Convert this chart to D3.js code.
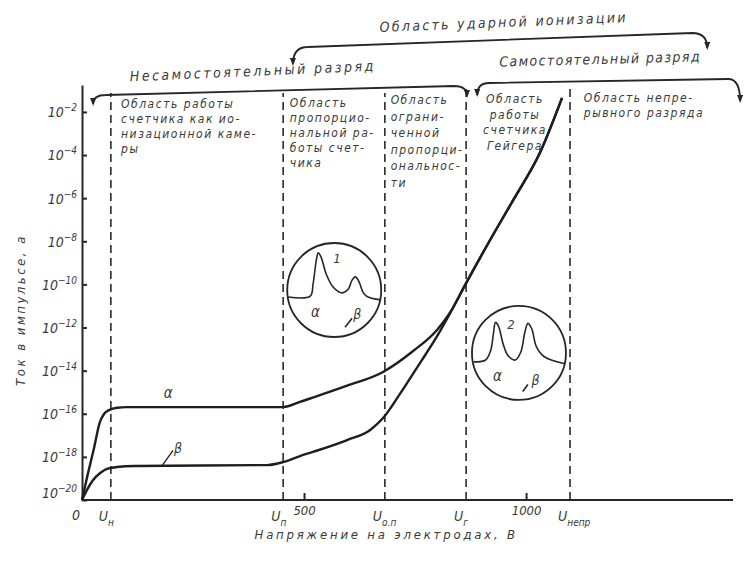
<!DOCTYPE html>
<html lang="ru">
<head>
<meta charset="UTF-8">
<title>Ток в импульсе — напряжение на электродах</title>
<script src="https://cdn.jsdelivr.net/npm/d3@7"></script>
<style>
    body { margin: 0; background: #fff; }
    svg text {
        font-family: "DejaVu Sans Condensed", "DejaVu Sans", sans-serif;
        font-style: italic;
        fill: #3a3a3a;
    }
    .axis path, .axis line { stroke: #262626; stroke-width: 2; fill: none; }
    .curve { fill: none; stroke: #1e1e1e; stroke-width: 2.4; }
    .bound { stroke: #2a2a2a; stroke-width: 1.6; stroke-dasharray: 8,5; }
    .bracket { fill: none; stroke: #262626; stroke-width: 1.8; }
    .inset circle { fill: none; stroke: #262626; stroke-width: 1.8; }
    .inset path { fill: none; stroke: #262626; stroke-width: 1.6; }
    .region { font-size: 12px; letter-spacing: 1.5px; }
</style>
</head>
<body>
<svg width="744" height="563"></svg>
<script>
// кривые: [напряжение, В ; log10 тока]
const alphaCurve = [[0,-20],[13,-18.8],[27,-17.6],[40,-16.4],[50,-16.0],[62,-15.82],[80,-15.72],[100,-15.69],
    [453,-15.69],[491,-15.45],[520,-15.25],[597,-14.7],[678,-14.06],[745,-13.1],[800,-12.1],[829,-11.3],
    [865,-9.94],[919,-7.94],[971,-6.09],[1032,-3.86],[1081,-1.35]];
const betaCurve = [[0,-20],[11,-19.54],[25,-19.07],[41,-18.75],[56,-18.56],[79,-18.47],[119,-18.42],
    [417,-18.38],[453,-18.24],[491,-17.96],[520,-17.77],[597,-17.22],[649,-16.75],[678,-16.2],[716,-15.08],
    [761,-13.65],[800,-12.39],[829,-11.33],[865,-9.94],[919,-7.94],[971,-6.09],[1032,-3.86],[1081,-1.35]];

const boundNames = ["н", "п", "о.п", "г", "непр"];
const boundVolts = [65, 453, 682, 865, 1099];

const yTickExp = [-2, -4, -6, -8, -10, -12, -14, -16, -18, -20];
const xTickVolts = [500, 1000];

const regionLines = [
    ["Область работы", "счетчика как ио-", "низационной каме-", "ры"],
    ["Область", "пропорцио-", "нальной ра-", "боты счет-", "чика"],
    ["Область", "ограни-", "ченной", "пропорци-", "ональнос-", "ти"],
    ["Область", "работы", "счетчика", "Гейгера"],
    ["Область непре-", "рывного разряда"]
];
const regionStart = [88, 468, 695, 975, 1130];

// импульсы во вставках (в долях радиуса круга)
const pulse1 = [[-0.98,-0.15],[-0.51,-0.13],[-0.45,0.13],[-0.38,0.64],[-0.34,0.79],[-0.28,0.70],[-0.17,0.34],
    [-0.02,0.06],[0.17,-0.06],[0.30,0.02],[0.38,0.21],[0.45,0.28],[0.53,0.17],[0.62,-0.06],[0.72,-0.15],[0.98,-0.21]];
const pulse2 = [[-0.96,-0.19],[-0.71,-0.15],[-0.60,0.06],[-0.54,0.44],[-0.50,0.65],[-0.44,0.58],[-0.33,0.17],
    [-0.23,-0.06],[-0.08,-0.15],[0.04,0.02],[0.125,0.44],[0.19,0.63],[0.27,0.52],[0.375,0.125],[0.54,-0.08],[0.98,-0.23]];
const insetCenters = [[568, -10.26], [984, -13.18]];
const insetNames = ["1", "2"];

const svg = d3.select("svg");

const x = d3.scaleLinear().domain([0, 1466]).range([82, 733]);
const y = d3.scaleLog().domain([1e-20, Math.pow(10, -0.75)]).range([500, 85]);
const yE = e => y(Math.pow(10, e));

// оси
const yAxis = svg.append("g").attr("class", "axis")
    .attr("transform", "translate(" + x(0) + ",0)")
    .call(d3.axisLeft(y).tickValues(yTickExp.map(e => Math.pow(10, e)))
        .tickSize(-5).tickSizeOuter(0).tickPadding(5).tickFormat(""));
yAxis.selectAll(".tick text").each(function (d) {
    const t = d3.select(this).attr("fill", null).attr("font-size", 14).attr("dy", "0.35em");
    const e = Math.round(Math.log10(d));
    if (e === -20) t.attr("dy", "-0.15em");
    t.append("tspan").text("10");
    t.append("tspan").attr("font-size", 10).attr("dy", "-0.6em").text("\u2212" + (-e));
});

const xAxis = svg.append("g").attr("class", "axis")
    .attr("transform", "translate(0," + y(1e-20) + ")")
    .call(d3.axisBottom(x).tickValues(xTickVolts).tickFormat(d3.format("d"))
        .tickSize(-7).tickSizeOuter(0).tickPadding(6));
xAxis.selectAll(".tick text").attr("fill", null).attr("font-size", 13).attr("font-family", null);
xAxis.select(".domain").attr("d", "M" + x(0) + ",0H" + x(1466));

svg.append("text").attr("x", x(0) - 6).attr("y", y(1e-20) + 20)
    .attr("text-anchor", "middle").attr("font-size", 14).text("0");

// границы областей
const bounds = svg.append("g");
boundVolts.forEach((v, i) => {
    bounds.append("line").attr("class", "bound")
        .attr("x1", x(v)).attr("x2", x(v))
        .attr("y1", y(1e-20)).attr("y2", i > 2 ? 86 : 93);
    const t = bounds.append("text").attr("x", x(v) - 12).attr("y", y(1e-20) + 21)
        .attr("font-size", 14);
    t.append("tspan").text("U");
    t.append("tspan").attr("font-size", 10).attr("dy", 5).text(boundNames[i]);
});

// кривые
const line = d3.line().x(d => x(d[0])).y(d => yE(d[1])).curve(d3.curveMonotoneX);
svg.append("path").datum(alphaCurve).attr("class", "curve").attr("d", line);
svg.append("path").datum(betaCurve).attr("class", "curve").attr("d", line);

svg.append("text").attr("x", x(194)).attr("y", yE(-15.04) + 5)
    .attr("text-anchor", "middle").attr("font-size", 15).text("α");
svg.append("text").attr("x", x(216)).attr("y", yE(-17.54) + 6)
    .attr("text-anchor", "middle").attr("font-size", 14).text("β");
svg.append("line").attr("x1", x(180)).attr("y1", yE(-18.42)).attr("x2", x(205)).attr("y2", yE(-17.7))
    .attr("stroke", "#262626").attr("stroke-width", 1.4);

// подписи областей
regionLines.forEach((lines, i) => {
    const first = [104, 103, 100, 99, 98][i];
    const step = [15, 15, 16.5, 15.5, 15][i];
    const t = svg.append("text").attr("class", "region")
        .attr("text-anchor", i === 3 ? "middle" : "start");
    lines.forEach((s, j) => {
        t.append("tspan").attr("x", x(regionStart[i])).attr("y", first + j * step + 4).text(s);
    });
});

// скобки
svg.append("defs").append("marker").attr("id", "arr")
    .attr("viewBox", "0 0 8 6").attr("refX", 6).attr("refY", 3)
    .attr("markerWidth", 8).attr("markerHeight", 6).attr("markerUnits", "userSpaceOnUse")
    .attr("orient", "auto-start-reverse")
    .append("path").attr("d", "M0,0L8,3L0,6z").attr("fill", "#262626");

function bracket(v0, v1, yl, yr, tip0, tip1, r) {
    const p = d3.path();
    const x0 = x(v0), x1 = x(v1);
    p.moveTo(x0, tip0);
    p.quadraticCurveTo(x0, yl, x0 + r, yl);
    p.lineTo(x1 - r, yr);
    p.quadraticCurveTo(x1, yr, x1, tip1);
    svg.append("path").attr("class", "bracket").attr("d", p.toString())
        .attr("marker-start", "url(#arr)").attr("marker-end", "url(#arr)");
}
bracket(475, 1408, 47, 33, 64, 48, 15);
bracket(25, 867, 95, 86, 104, 96, 13);
bracket(890, 1482, 83, 79, 95, 101, 12);

svg.append("text").attr("transform", "translate(" + x(950) + ",27) rotate(-2.3)")
    .attr("text-anchor", "middle").attr("font-size", 14).attr("letter-spacing", 2.3)
    .text("Область ударной ионизации");
svg.append("text").attr("transform", "translate(" + x(385) + ",76) rotate(-2.5)")
    .attr("text-anchor", "middle").attr("font-size", 14).attr("letter-spacing", 2.5)
    .text("Несамостоятельный разряд");
svg.append("text").attr("transform", "translate(" + x(1167) + ",64) rotate(-1.5)")
    .attr("text-anchor", "middle").attr("font-size", 14).attr("letter-spacing", 1.4)
    .text("Самостоятельный разряд");

// вставки с импульсами
const insetR = 47;
[pulse1, pulse2].forEach((pts, i) => {
    const cx = x(insetCenters[i][0]), cy = yE(insetCenters[i][1]);
    const sx = d3.scaleLinear().domain([-1, 1]).range([cx - insetR, cx + insetR]);
    const sy = d3.scaleLinear().domain([-1, 1]).range([cy + insetR, cy - insetR]);
    const g = svg.append("g").attr("class", "inset");
    g.append("circle").attr("cx", cx).attr("cy", cy).attr("r", insetR);
    g.append("path").datum(pts)
        .attr("d", d3.line().x(d => sx(d[0])).y(d => sy(d[1])).curve(d3.curveCatmullRom));
    const lab = i === 0
        ? {n: [0.06, 0.68], a: [-0.40, -0.47], b: [0.49, -0.50], l: [[0.38, -0.60], [0.23, -0.79]]}
        : {n: [-0.17, 0.62], a: [-0.46, -0.50], b: [0.35, -0.57], l: [[0.19, -0.67], [0.08, -0.82]]};
    g.append("text").attr("x", sx(lab.n[0])).attr("y", sy(lab.n[1]) + 5)
        .attr("text-anchor", "middle").attr("font-size", 13).text(insetNames[i]);
    g.append("text").attr("x", sx(lab.a[0])).attr("y", sy(lab.a[1]) + 5)
        .attr("text-anchor", "middle").attr("font-size", 15).text("α");
    g.append("text").attr("x", sx(lab.b[0])).attr("y", sy(lab.b[1]) + 5)
        .attr("text-anchor", "middle").attr("font-size", 14).text("β");
    g.append("path").attr("d", d3.line().x(d => sx(d[0])).y(d => sy(d[1]))(lab.l));
});

// подписи осей
svg.append("text").attr("x", x(685)).attr("y", 539)
    .attr("text-anchor", "middle").attr("font-size", 13).attr("letter-spacing", 2.8)
    .text("Напряжение на электродах, В");
svg.append("text").attr("transform", "translate(25,310) rotate(-90)")
    .attr("text-anchor", "middle").attr("font-size", 13).attr("letter-spacing", 2.5)
    .text("Ток в импульсе, а");
</script>
</body>
</html>
